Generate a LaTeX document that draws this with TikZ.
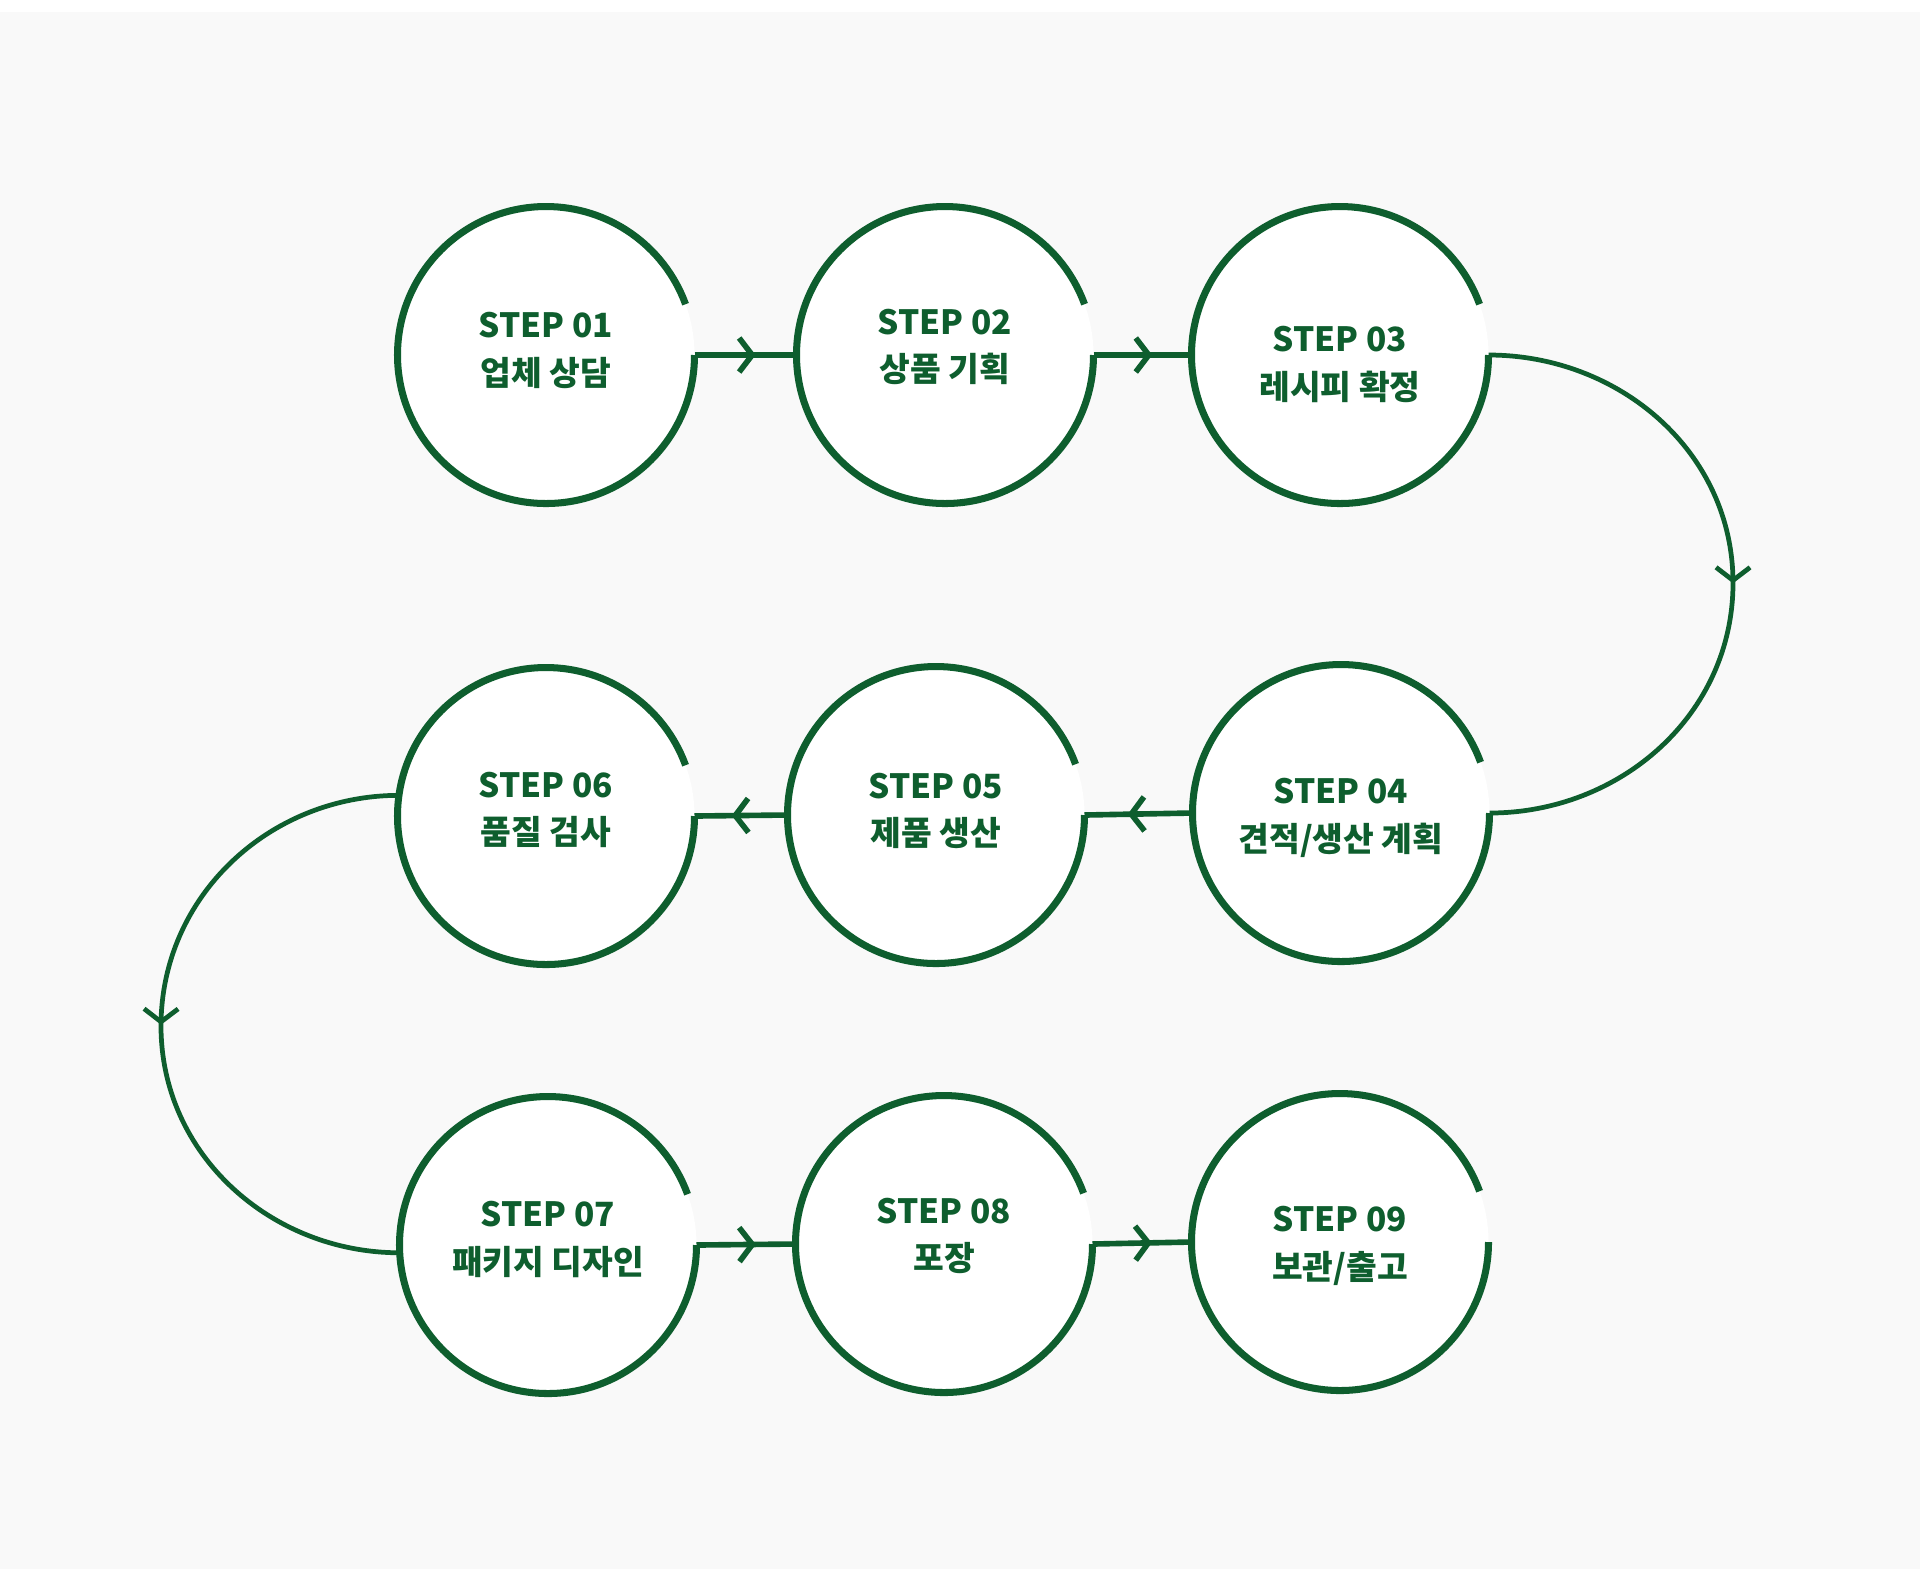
\documentclass[tikz,border=0pt]{standalone}
\usepackage{fontspec}
\setmainfont{Noto Sans CJK KR}
\usetikzlibrary{arrows.meta,decorations.markings}
\definecolor{stepgreen}{HTML}{0E5E2E}
\definecolor{bggray}{HTML}{F9F9F9}
\tikzset{
  stepring/.style={circle, fill=white, minimum size=2.97cm, inner sep=0pt, outer sep=0pt},
  steptext/.style={align=center, text=stepgreen, inner sep=0pt, font=\fontsize{9.5}{13.6}\selectfont\bfseries},
  ring/.style={stepgreen, line width=2pt},
  flow/.style={stepgreen, line width=1.6pt,
    decoration={markings, mark=at position #1 with {\arrow{Straight Barb[length=1.3mm,width=3.4mm]}}},
    postaction={decorate}},
  flow/.default=0.6,
  turn/.style={flow=0.5, line width=1.35pt}
}
\begin{document}
\begin{tikzpicture}
    % Background (thin white strip on top, light grey below)
    \fill[white] (0,0) rectangle (19.2,-15.69);
    \fill[bggray] (0,-0.12) rectangle (19.2,-15.69);
    \useasboundingbox (0,0) rectangle (19.2,-15.69);

    % Step circles (row 1 left to right, row 2 right to left, row 3 left to right)
    \node[stepring] (s1) at (5.46,-3.55) {};
    \node[stepring] (s2) at (9.45,-3.55) {};
    \node[stepring] (s3) at (13.40,-3.55) {};
    \node[stepring] (s4) at (13.41,-8.13) {};
    \node[stepring] (s5) at (9.36,-8.15) {};
    \node[stepring] (s6) at (5.46,-8.16) {};
    \node[stepring] (s7) at (5.48,-12.45) {};
    \node[stepring] (s8) at (9.44,-12.44) {};
    \node[stepring] (s9) at (13.40,-12.42) {};

    % Rings, left open at the upper right
    \foreach \i in {1,...,9} \draw[ring] (s\i.east) arc[start angle=0, end angle=-340, radius=1.485];

    % Labels
    \node[steptext] (t1) at (5.46,-3.505) {STEP 01\\업체 상담};
    \node[steptext] (t2) at (9.45,-3.47) {STEP 02\\상품 기획};
    \node[steptext] (t3) at (13.40,-3.645) {STEP 03\\레시피 확정};
    \node[steptext] (t4) at (13.41,-8.175) {STEP 04\\견적/생산 계획};
    \node[steptext] (t5) at (9.36,-8.11) {STEP 05\\제품 생산};
    \node[steptext] (t6) at (5.46,-8.10) {STEP 06\\품질 검사};
    \node[steptext] (t7) at (5.48,-12.395) {STEP 07\\패키지 디자인};
    \node[steptext] (t8) at (9.44,-12.36) {STEP 08\\포장};
    \node[steptext] (t9) at (13.40,-12.46) {STEP 09\\보관/출고};

    % Straight connectors
    \draw[flow] (s1.east) -- (s2.west);
    \draw[flow] (s2.east) -- (s3.west);
    \draw[flow] (s4.west) -- (s5.east);
    \draw[flow] (s5.west) -- (s6.east);
    \draw[flow] (s7.east) -- (s8.west);
    \draw[flow] (s8.east) -- (s9.west);

    % Turns between rows
    \coordinate (r1) at (17.33,-5.83);
    \coordinate (l1) at (1.61,-10.26);
    \draw[turn] (s3.east) to[out=0,in=90] (r1) to[out=-90,in=0] (s4.east);
    \draw[turn] (s6.172) to[out=180,in=90] (l1) to[out=-90,in=180] (s7.183);
\end{tikzpicture}
\end{document}
